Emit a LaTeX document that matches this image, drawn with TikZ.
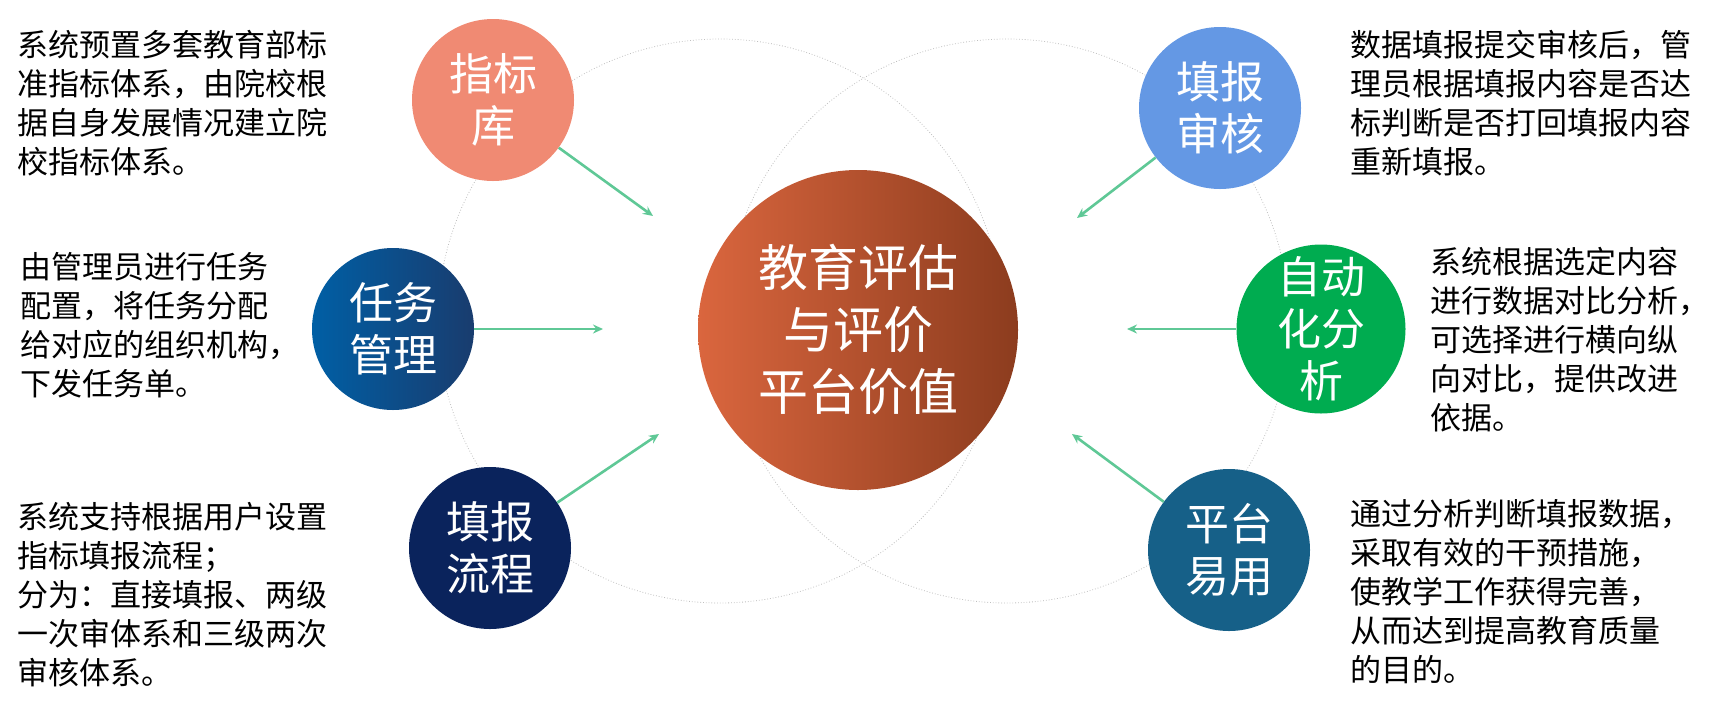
\documentclass[tikz,border=0pt]{standalone}
\usepackage{fontspec}
\setmainfont{Noto Sans CJK SC}
\usetikzlibrary{arrows.meta,shadings}
\definecolor{arrowgreen}{RGB}{95,200,150}
\definecolor{salmon}{RGB}{240,138,115}
\definecolor{skyblue}{RGB}{100,152,228}
\definecolor{navyblue}{RGB}{10,35,92}
\definecolor{leafgreen}{RGB}{0,172,80}
\definecolor{steelblue}{RGB}{22,96,136}
\tikzset{
  ball/.style={circle, minimum size=162pt, inner sep=0pt, text=white, align=center,
    font=\fontsize{44}{52}\selectfont},
  note/.style={anchor=north west, align=left, inner sep=0pt,
    font=\fontsize{31}{39}\selectfont},
  link/.style={draw=arrowgreen, line width=2.6pt, -{Stealth[length=10pt,width=9pt]}},
  ring/.style={draw=gray!50, dotted, line width=0.8pt}
}
\begin{document}
\begin{tikzpicture}[x=1pt,y=-1pt]
\useasboundingbox (0,0) rectangle (1726,716);
% dotted rings behind
\draw[ring] (720,321) circle (282);
\draw[ring] (1007,321) circle (282);
% centre
\node[ball, minimum size=320pt, left color={rgb,255:red,218;green,102;blue,62}, right color={rgb,255:red,140;green,60;blue,30},
  font=\fontsize{50}{62}\selectfont] (hub) at (858,330) {教育评估\\与评价\\平台价值};
% six topics
\node[ball, fill=salmon] (lib) at (493,100) {指标\\库};
\node[ball, left color={rgb,255:red,0;green,95;blue,165}, right color={rgb,255:red,25;green,60;blue,110}] (task) at (393,329) {任务\\管理};
\node[ball, fill=navyblue] (flow) at (490,548) {填报\\流程};
\node[ball, fill=skyblue] (audit) at (1220,108) {填报\\审核};
\node[ball, fill=leafgreen] (auto) at (1321,329) {自动\\化分\\析};
\node[ball, fill=steelblue] (easy) at (1229,550) {平台\\易用};
% arrow ends
\coordinate (libE) at (653,216);
\coordinate (taskE) at (603,329);
\coordinate (flowE) at (659,434);
\coordinate (auditE) at (1077,218);
\coordinate (autoE) at (1127,329);
\coordinate (easyE) at (1072,434);
\draw[link] (lib) -- (libE);
\draw[link] (task) -- (taskE);
\draw[link] (flow) -- (flowE);
\draw[link] (audit) -- (auditE);
\draw[link] (auto) -- (autoE);
\draw[link] (easy) -- (easyE);
% notes
\node[note] (libT) at (17,30) {系统预置多套教育部标\\准指标体系，由院校根\\据自身发展情况建立院\\校指标体系。};
\node[note] (taskT) at (20,252) {由管理员进行任务\\配置，将任务分配\\给对应的组织机构，\\下发任务单。};
\node[note] (flowT) at (17,502) {系统支持根据用户设置\\指标填报流程；\\分为：直接填报、两级\\一次审体系和三级两次\\审核体系。};
\node[note] (auditT) at (1350,30) {数据填报提交审核后，管\\理员根据填报内容是否达\\标判断是否打回填报内容\\重新填报。};
\node[note] (autoT) at (1430,247) {系统根据选定内容\\进行数据对比分析，\\可选择进行横向纵\\向对比，提供改进\\依据。};
\node[note] (easyT) at (1350,499) {通过分析判断填报数据，\\采取有效的干预措施，\\使教学工作获得完善，\\从而达到提高教育质量\\的目的。};
\end{tikzpicture}
\end{document}
